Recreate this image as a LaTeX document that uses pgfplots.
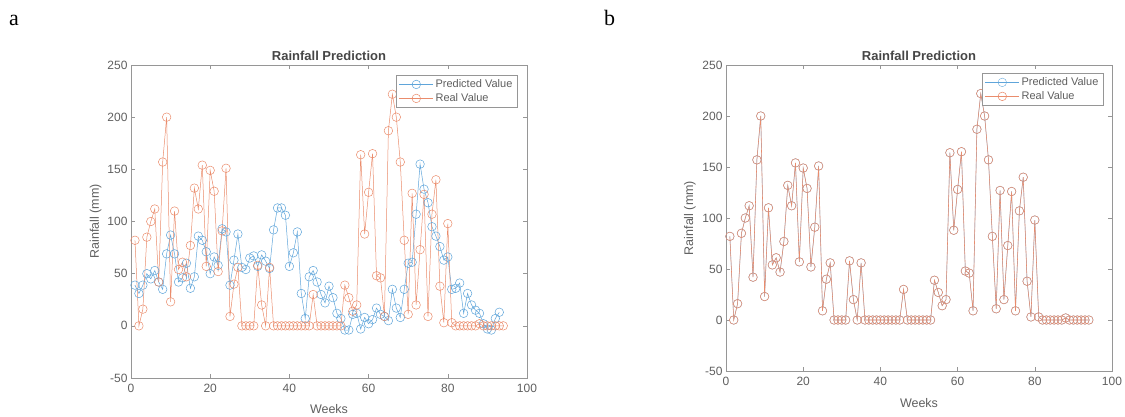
\documentclass[border=0pt]{standalone}
\usepackage{pgfplots}
\pgfplotsset{compat=1.18}
\usepackage{pgfplotstable}
\usepackage{fontspec}
\setmainfont{Liberation Sans}
\newfontfamily\seriffont{Liberation Serif}

\definecolor{predblue}{RGB}{95,165,218}
\definecolor{realorange}{RGB}{234,140,108}
\definecolor{axgray}{RGB}{150,150,150}
\definecolor{txtgray}{RGB}{95,95,95}
\definecolor{titlegray}{RGB}{70,70,70}

% real rainfall, weeks 1-94
\pgfplotstableread{
w v
1 82
2 0
3 16
4 85
5 100
6 112
7 42
8 157
9 200
10 23
11 110
12 54
13 61
14 47
15 77
16 132
17 112
18 154
19 57
20 149
21 129
22 52
23 91
24 151
25 9
26 40
27 56
28 0
29 0
30 0
31 0
32 58
33 20
34 0
35 56
36 0
37 0
38 0
39 0
40 0
41 0
42 0
43 0
44 0
45 0
46 30
47 0
48 0
49 0
50 0
51 0
52 0
53 0
54 39
55 27
56 14
57 20
58 164
59 88
60 128
61 165
62 48
63 46
64 9
65 187
66 222
67 200
68 157
69 82
70 11
71 127
72 20
73 73
74 126
75 9
76 107
77 140
78 38
79 3
80 98
81 3
82 0
83 0
84 0
85 0
86 0
87 0
88 2
89 0
90 0
91 0
92 0
93 0
94 0
}\realdata

% predicted values of panel a
\pgfplotstableread{
w v
1 39
2 31
3 39
4 50
5 45
6 53
7 42
8 35
9 69
10 87
11 69
12 42
13 46
14 60
15 36
16 47
17 86
18 82
19 71
20 50
21 66
22 58
23 93
24 90
25 39
26 63
27 88
28 56
29 54
30 65
31 67
32 57
33 68
34 62
35 55
36 92
37 113
38 113
39 106
40 57
41 70
42 90
43 31
44 7
45 47
46 53
47 42
48 30
49 22
50 38
51 27
52 12
53 7
54 -4
55 -4
56 11
57 12
58 -3
59 8
60 2
61 6
62 17
63 11
64 9
65 5
66 35
67 17
68 8
69 35
70 60
71 61
72 107
73 155
74 131
75 118
76 95
77 86
78 76
79 63
80 66
81 35
82 36
83 41
84 12
85 31
86 20
87 15
88 12
89 2
90 -3
91 -4
92 7
93 13
}\preddata

\pgfplotsset{rainax/.style={
  scale only axis,
  xmin=0, xmax=100, ymin=-50, ymax=250,
  xtick={0,20,...,100}, ytick={-50,0,...,250},
  tick pos=both, tick align=inside, major tick length=4pt,
  axis line style={axgray, line width=0.6pt},
  every tick/.style={axgray, line width=0.6pt},
  /pgf/number format/assume math mode=true,
  ticklabel style={font=\fontsize{12}{14}\selectfont, text=txtgray},
  xticklabel style={yshift=-3pt},
  title={\textbf{Rainfall Prediction}},
  title style={font=\fontsize{13}{15}\selectfont, text=titlegray, at={(0.5,1)}, anchor=base, yshift=-1pt},
  xlabel={Weeks}, ylabel={Rainfall (mm)},
  label style={font=\fontsize{12.5}{14}\selectfont, text=txtgray},
  legend cell align=left,
  legend style={draw=axgray, fill=white, font=\fontsize{11}{13}\selectfont, text=txtgray,
    inner sep=2.5pt, row sep=0.5pt},
  legend image code/.code={\draw[mark repeat=2, mark phase=2] plot coordinates {(0pt,0pt) (17pt,0pt) (34pt,0pt)};},
  every axis plot/.append style={line width=0.5pt, mark=o, mark size=4.3pt, mark options={solid}},
}}

\begin{document}
\begin{tikzpicture}[x=1pt,y=1pt]
\path[use as bounding box] (0,0) rectangle (1125,-417);
\node[anchor=base west, inner sep=0pt, font=\seriffont\fontsize{22}{24}\selectfont] at (9,-26) {a};
\node[anchor=base west, inner sep=0pt, font=\seriffont\fontsize{22}{24}\selectfont] at (604,-26) {b};

\begin{axis}[rainax, at={(131pt,-378pt)}, anchor=south west, width=396pt, height=313pt,
  legend style={at={(0.975,0.968)}, anchor=north east},
  ylabel style={at={(axis description cs:-0.081,0.5)}, anchor=base},
  xlabel style={at={(axis description cs:0.5,0)}, anchor=base, yshift=-35pt}]
\addplot[predblue] table {\preddata};
\addplot[realorange] table {\realdata};
\legend{Predicted Value, Real Value}
\end{axis}

\begin{axis}[rainax, at={(726pt,-371pt)}, anchor=south west, width=386pt, height=306pt,
  legend style={at={(0.977,0.974)}, anchor=north east},
  ylabel style={at={(axis description cs:-0.085,0.5)}, anchor=base},
  xlabel style={at={(axis description cs:0.5,0)}, anchor=base, yshift=-36pt}]
\addplot[predblue, line width=0.35pt] table {\realdata};
\addplot[realorange, line width=0.55pt] table {\realdata};
\legend{Predicted Value, Real Value}
\end{axis}
\end{tikzpicture}
\end{document}
